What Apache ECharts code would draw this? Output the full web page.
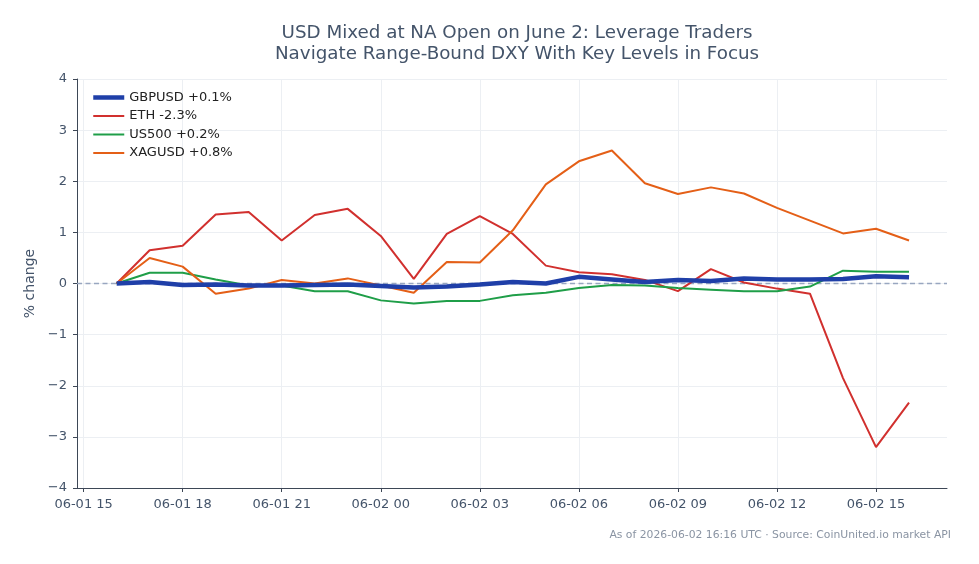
<!DOCTYPE html>
<html>
<head>
<meta charset="utf-8">
<script src="https://cdn.jsdelivr.net/npm/echarts@6/dist/echarts.min.js"></script>
<style>
  html, body { margin: 0; padding: 0; background: #fff; }
  #main { width: 979px; height: 564px; }
</style>
</head>
<body>
<div id="main"></div>
<script>
// hourly points, 06-01 16:00 -> 06-02 16:00 UTC
const times = [
  "06-01 16", "06-01 17", "06-01 18", "06-01 19", "06-01 20", "06-01 21", "06-01 22", "06-01 23",
  "06-02 00", "06-02 01", "06-02 02", "06-02 03", "06-02 04", "06-02 05", "06-02 06", "06-02 07",
  "06-02 08", "06-02 09", "06-02 10", "06-02 11", "06-02 12", "06-02 13", "06-02 14", "06-02 15",
  "06-02 16"
];
const gbpusd = [0, 0.03, -0.03, -0.02, -0.04, -0.04, -0.03, -0.02, -0.05, -0.08, -0.06, -0.02, 0.03,
  0.0, 0.13, 0.08, 0.03, 0.07, 0.05, 0.1, 0.08, 0.08, 0.09, 0.14, 0.12];
const eth = [0, 0.65, 0.74, 1.35, 1.40, 0.84, 1.34, 1.46, 0.93, 0.09, 0.97, 1.32, 0.97,
  0.35, 0.22, 0.18, 0.07, -0.15, 0.28, 0.02, -0.1, -0.2, -1.85, -3.2, -2.33];
const us500 = [0, 0.21, 0.21, 0.08, -0.04, -0.04, -0.15, -0.15, -0.33, -0.39, -0.34, -0.34, -0.23,
  -0.18, -0.09, -0.03, -0.04, -0.09, -0.12, -0.15, -0.15, -0.06, 0.25, 0.23, 0.23];
const xagusd = [0, 0.5, 0.33, -0.2, -0.1, 0.07, 0.0, 0.1, -0.04, -0.18, 0.42, 0.41, 1.04,
  1.94, 2.39, 2.6, 1.96, 1.75, 1.88, 1.76, 1.48, 1.23, 0.98, 1.07, 0.84];
const xTicks = [0, 3, 6, 9, 12, 15, 18, 21, 24];

// x position = hours after 06-01 15:00
function toHours(t) {
  const day = parseInt(t.slice(3, 5), 10);
  const hr = parseInt(t.slice(6), 10);
  return (day - 1) * 24 + hr - 15;
}
function hoursLabel(h) {
  const tot = h + 15;
  const day = 1 + Math.floor(tot / 24);
  const hr = tot % 24;
  return "06-0" + day + " " + (hr < 10 ? "0" + hr : hr);
}
function pairs(vals) {
  return vals.map((v, i) => [toHours(times[i]), v]);
}

const fontFam = "DejaVu Sans";
const txt = "#44546a";
const axisCol = "#3d4756";

const chart = echarts.init(document.getElementById("main"));
chart.setOption({
  animation: false,
  title: [
    {
      text: "USD Mixed at NA Open on June 2: Leverage Traders\nNavigate Range-Bound DXY With Key Levels in Focus",
      left: 512, top: 18, textAlign: "center",
      textStyle: { fontFamily: fontFam, fontSize: 18.3, fontWeight: "normal", color: txt, lineHeight: 21 }
    },
    {
      text: "As of 2026-06-02 16:16 UTC · Source: CoinUnited.io market API",
      right: 23, top: 525,
      textStyle: { fontFamily: fontFam, fontSize: 10.8, fontWeight: "normal", color: "#8a94a3" }
    }
  ],
  legend: {
    orient: "vertical", left: 86, top: 86,
    itemWidth: 31, itemHeight: 14, itemGap: 5.5,
    itemStyle: { opacity: 0 },
    data: [
      { name: "GBPUSD +0.1%", lineStyle: { width: 4.5 } },
      { name: "ETH -2.3%", lineStyle: { width: 2 } },
      { name: "US500 +0.2%", lineStyle: { width: 2 } },
      { name: "XAGUSD +0.8%", lineStyle: { width: 2 } }
    ],
    textStyle: { fontFamily: fontFam, fontSize: 13, color: "#222" }
  },
  grid: { left: 77, right: 32, top: 79, bottom: 76 },
  xAxis: {
    type: "value", min: -0.2, max: 26.15,
    axisLine: { show: true, onZero: false, lineStyle: { color: axisCol, width: 1 } },
    axisTick: { show: true, customValues: xTicks, length: 4, lineStyle: { color: axisCol } },
    axisLabel: {
      customValues: xTicks, formatter: hoursLabel, margin: 10,
      fontFamily: fontFam, fontSize: 13, color: txt
    },
    splitLine: { show: true, lineStyle: { color: "#eceff3" } }
  },
  yAxis: {
    type: "value", min: -4, max: 4, interval: 1,
    name: "% change", nameLocation: "middle", nameGap: 40,
    nameTextStyle: { fontFamily: fontFam, fontSize: 14, color: txt },
    axisLine: { show: true, onZero: false, lineStyle: { color: axisCol, width: 1 } },
    axisTick: { show: true, length: 4, lineStyle: { color: axisCol } },
    axisLabel: {
      formatter: v => String(v).replace("-", "\u2212"), margin: 10,
      fontFamily: fontFam, fontSize: 13, color: txt
    },
    splitLine: { show: true, lineStyle: { color: "#eceff3" } }
  },
  series: [
    {
      name: "GBPUSD +0.1%", type: "line", data: pairs(gbpusd), symbol: "none", z: 5,
      color: "#1f3fa8", lineStyle: { width: 4.5 },
      markLine: {
        silent: true, symbol: "none", label: { show: false }, z: 1,
        lineStyle: { color: "#98a6c0", type: [5, 3.5], width: 1.3 },
        data: [{ yAxis: 0 }]
      }
    },
    { name: "ETH -2.3%", type: "line", data: pairs(eth), symbol: "none", color: "#d1302e", lineStyle: { width: 2 } },
    { name: "US500 +0.2%", type: "line", data: pairs(us500), symbol: "none", color: "#1f9e48", lineStyle: { width: 2 } },
    { name: "XAGUSD +0.8%", type: "line", data: pairs(xagusd), symbol: "none", color: "#e45f17", lineStyle: { width: 2 } }
  ]
});
</script>
</body>
</html>
